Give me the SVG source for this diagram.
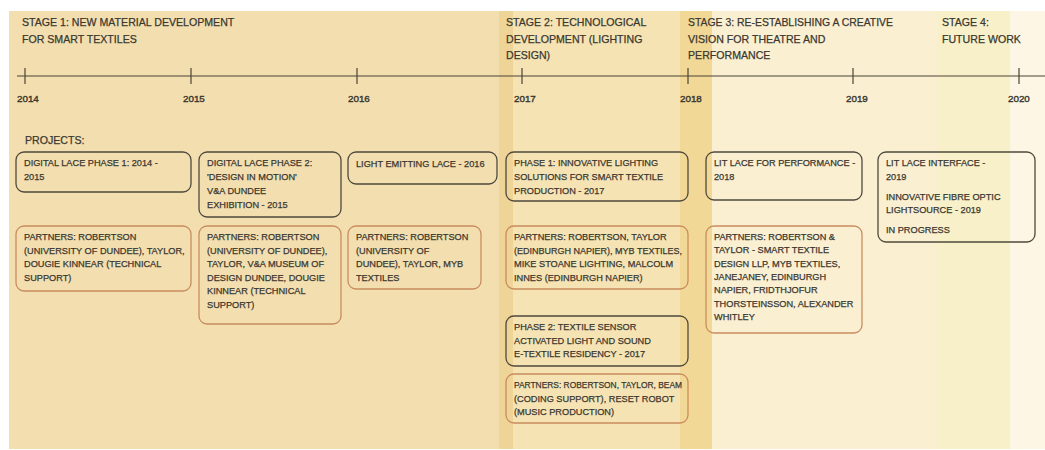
<svg xmlns="http://www.w3.org/2000/svg" width="1045" height="450" viewBox="0 0 1045 450">
<style>
text{font-family:"Liberation Sans",Arial,sans-serif;fill:#3a382f;stroke:#3a382f;stroke-width:0.25}
.hd{font-size:10.6px}
.yr{font-size:9.8px;stroke-width:0.4}
.tx{font-size:9.2px}
.pb{fill:none;stroke:#4e4a3d;stroke-width:1.3}
.qb{fill:none;stroke:#c98c5e;stroke-width:1.3}
.tl{stroke:#4a4436;stroke-width:1.2}
</style>
<rect width="1045" height="450" fill="#ffffff"/>
<g id="bands">
<rect x="9" y="11" width="490" height="438" fill="#f3deb0"/>
<rect x="499" y="11" width="14" height="438" fill="#eed497"/>
<rect x="513" y="11" width="167" height="438" fill="#f6e3b4"/>
<rect x="680" y="11" width="32" height="438" fill="#f2d896"/>
<rect x="712" y="11" width="225" height="438" fill="#fbefd2"/>
<rect x="937" y="11" width="73" height="438" fill="#f8f0c9"/>
<rect x="1010" y="11" width="35" height="438" fill="#fdf6e4"/>
</g>
<g id="stages">
<text class="hd" x="22" y="26"><tspan x="22">STAGE 1: NEW MATERIAL DEVELOPMENT</tspan><tspan x="22" dy="16.5">FOR SMART TEXTILES</tspan></text>
<text class="hd" x="506" y="26"><tspan x="506">STAGE 2: TECHNOLOGICAL</tspan><tspan x="506" dy="16.5">DEVELOPMENT (LIGHTING</tspan><tspan x="506" dy="16.5">DESIGN)</tspan></text>
<text class="hd" x="688" y="26"><tspan x="688" textLength="205" lengthAdjust="spacingAndGlyphs">STAGE 3: RE-ESTABLISHING A CREATIVE</tspan><tspan x="688" dy="16.5">VISION FOR THEATRE AND</tspan><tspan x="688" dy="16.5">PERFORMANCE</tspan></text>
<text class="hd" x="942" y="26"><tspan x="942">STAGE 4:</tspan><tspan x="942" dy="16.5">FUTURE WORK</tspan></text>
</g>
<g id="timeline">
<line class="tl" x1="17" y1="76" x2="1045" y2="76"/>
<line class="tl" x1="25" y1="68" x2="25" y2="84"/>
<line class="tl" x1="191" y1="68" x2="191" y2="84"/>
<line class="tl" x1="357" y1="68" x2="357" y2="84"/>
<line class="tl" x1="522" y1="68" x2="522" y2="84"/>
<line class="tl" x1="688" y1="68" x2="688" y2="84"/>
<line class="tl" x1="853" y1="68" x2="853" y2="84"/>
<line class="tl" x1="1019" y1="68" x2="1019" y2="84"/>
<text class="yr" x="17" y="102">2014</text>
<text class="yr" x="183" y="102">2015</text>
<text class="yr" x="348" y="102">2016</text>
<text class="yr" x="514" y="102">2017</text>
<text class="yr" x="680" y="102">2018</text>
<text class="yr" x="846" y="102">2019</text>
<text class="yr" x="1008" y="102">2020</text>
</g>
<text class="hd" x="25" y="144">PROJECTS:</text>
<g id="connectors"></g>
<g id="p-digital-lace-1">
<rect class="pb" x="16" y="152" width="175" height="40" rx="8"/>
<text class="tx" y="166"><tspan x="24">DIGITAL LACE PHASE 1: 2014 -</tspan><tspan x="24" dy="14">2015</tspan></text>
</g>
<g id="p-digital-lace-2">
<rect class="pb" x="199" y="152" width="142" height="65" rx="8"/>
<text class="tx" y="166"><tspan x="207">DIGITAL LACE PHASE 2:</tspan><tspan x="207" dy="14">'DESIGN IN MOTION'</tspan><tspan x="207" dy="14">V&amp;A DUNDEE</tspan><tspan x="207" dy="14">EXHIBITION - 2015</tspan></text>
</g>
<g id="p-light-emitting">
<rect class="pb" x="348" y="152" width="149" height="32" rx="8"/>
<text class="tx" x="356" y="167">LIGHT EMITTING LACE - 2016</text>
</g>
<g id="p-phase1">
<rect class="pb" x="506" y="152" width="182" height="49" rx="8"/>
<text class="tx" y="166"><tspan x="514">PHASE 1: INNOVATIVE LIGHTING</tspan><tspan x="514" dy="14">SOLUTIONS FOR SMART TEXTILE</tspan><tspan x="514" dy="14">PRODUCTION - 2017</tspan></text>
</g>
<g id="p-lit-lace-performance">
<rect class="pb" x="706" y="152" width="156" height="48" rx="8"/>
<text class="tx" y="166"><tspan x="714">LIT LACE FOR PERFORMANCE -</tspan><tspan x="714" dy="14">2018</tspan></text>
</g>
<g id="p-lit-lace-interface">
<rect class="pb" x="878" y="152" width="157" height="90" rx="8"/>
<text class="tx" y="166"><tspan x="886">LIT LACE INTERFACE -</tspan><tspan x="886" dy="14">2019</tspan><tspan x="886" dy="20">INNOVATIVE FIBRE OPTIC</tspan><tspan x="886" dy="13">LIGHTSOURCE - 2019</tspan><tspan x="886" dy="20">IN PROGRESS</tspan></text>
</g>
<g id="partners-1">
<rect class="qb" x="16" y="226" width="175" height="65" rx="8"/>
<text class="tx" y="240"><tspan x="24">PARTNERS: ROBERTSON</tspan><tspan x="24" dy="13.5">(UNIVERSITY OF DUNDEE), TAYLOR,</tspan><tspan x="24" dy="13.5">DOUGIE KINNEAR (TECHNICAL</tspan><tspan x="24" dy="13.5">SUPPORT)</tspan></text>
</g>
<g id="partners-2">
<rect class="qb" x="199" y="226" width="142" height="98" rx="8"/>
<text class="tx" y="240"><tspan x="207">PARTNERS: ROBERTSON</tspan><tspan x="207" dy="13.5">(UNIVERSITY OF DUNDEE),</tspan><tspan x="207" dy="13.5">TAYLOR, V&amp;A MUSEUM OF</tspan><tspan x="207" dy="13.5">DESIGN DUNDEE, DOUGIE</tspan><tspan x="207" dy="13.5">KINNEAR (TECHNICAL</tspan><tspan x="207" dy="13.5">SUPPORT)</tspan></text>
</g>
<g id="partners-3">
<rect class="qb" x="348" y="226" width="133" height="63" rx="8"/>
<text class="tx" y="240"><tspan x="356">PARTNERS: ROBERTSON</tspan><tspan x="356" dy="13.5">(UNIVERSITY OF</tspan><tspan x="356" dy="13.5">DUNDEE), TAYLOR, MYB</tspan><tspan x="356" dy="13.5">TEXTILES</tspan></text>
</g>
<g id="partners-4">
<rect class="qb" x="506" y="226" width="182" height="63" rx="8"/>
<text class="tx" y="240"><tspan x="514">PARTNERS: ROBERTSON, TAYLOR</tspan><tspan x="514" dy="13.5" textLength="168" lengthAdjust="spacingAndGlyphs">(EDINBURGH NAPIER), MYB TEXTILES,</tspan><tspan x="514" dy="13.5">MIKE STOANE LIGHTING, MALCOLM</tspan><tspan x="514" dy="13.5">INNES (EDINBURGH NAPIER)</tspan></text>
</g>
<g id="partners-5">
<rect class="qb" x="706" y="226" width="156" height="107" rx="8"/>
<text class="tx" y="240"><tspan x="714">PARTNERS: ROBERTSON &amp;</tspan><tspan x="714" dy="13.3">TAYLOR - SMART TEXTILE</tspan><tspan x="714" dy="13.3">DESIGN LLP, MYB TEXTILES,</tspan><tspan x="714" dy="13.3">JANEJANEY, EDINBURGH</tspan><tspan x="714" dy="13.3">NAPIER, FRIDTHJOFUR</tspan><tspan x="714" dy="13.3">THORSTEINSSON, ALEXANDER</tspan><tspan x="714" dy="13.3">WHITLEY</tspan></text>
</g>
<g id="p-phase2">
<rect class="pb" x="506" y="316" width="182" height="50" rx="8"/>
<text class="tx" y="330"><tspan x="514">PHASE 2: TEXTILE SENSOR</tspan><tspan x="514" dy="13.5">ACTIVATED LIGHT AND SOUND</tspan><tspan x="514" dy="13.5">E-TEXTILE RESIDENCY - 2017</tspan></text>
</g>
<g id="partners-6">
<rect class="qb" x="506" y="374" width="182" height="49" rx="8"/>
<text class="tx" y="388"><tspan x="514" textLength="168" lengthAdjust="spacingAndGlyphs">PARTNERS: ROBERTSON, TAYLOR, BEAM</tspan><tspan x="514" dy="13.5">(CODING SUPPORT), RESET ROBOT</tspan><tspan x="514" dy="13.5">(MUSIC PRODUCTION)</tspan></text>
</g>
</svg>
